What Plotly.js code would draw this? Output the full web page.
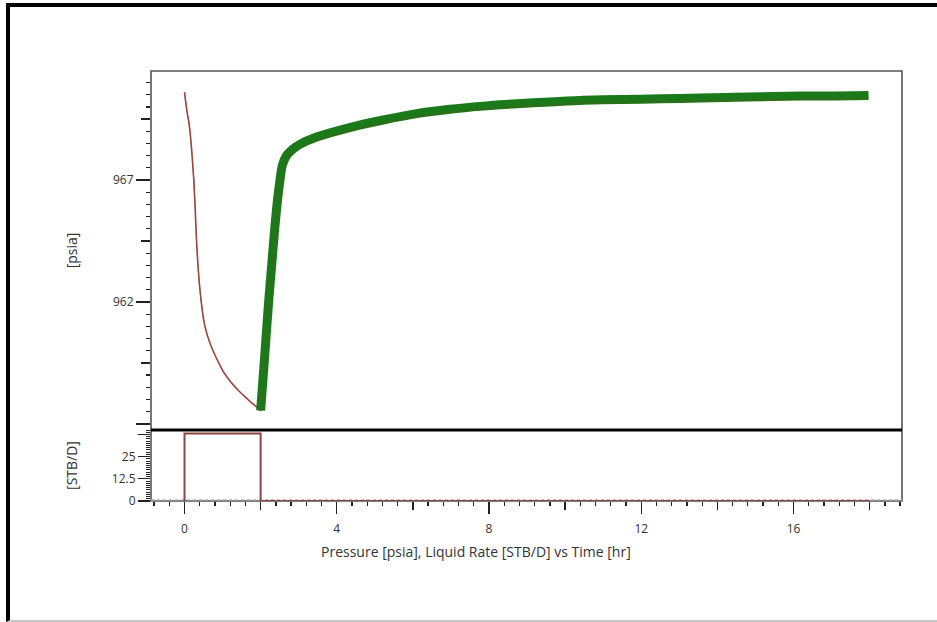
<!DOCTYPE html>
<html>
<head>
<meta charset="utf-8">
<script src="https://cdn.plot.ly/plotly-3.0.1.min.js"></script>
<style>
  html, body { margin: 0; padding: 0; background: #fff; }
  #wrap { position: relative; width: 937px; height: 622px; overflow: hidden; }
  #chart { width: 937px; height: 622px; }
  #frame { position: absolute; left: 6px; top: 3px; width: 931px; height: 619px;
           box-sizing: border-box; border-left: 4px solid #000; border-top: 4px solid #000;
           border-bottom: 2px solid #c8c8c8; pointer-events: none; }
</style>
</head>
<body>
<div id="wrap"><div id="chart"></div><div id="frame"></div></div>
<script>
// ---- Data ----
// Measured pressure during build-up (green) [hr], [psia]
const measTime = [2.0, 2.07, 2.14, 2.21, 2.29, 2.37, 2.46, 2.57, 2.68, 2.85, 3.03, 3.47, 4.34, 5.22, 6.1, 6.97, 7.85, 8.73, 9.6, 10.48, 11.5, 12.5, 13.55, 14.8, 16.18, 17.1, 17.97];
const measPres = [957.55, 959.0, 960.5, 962.0, 963.5, 965.0, 966.4, 967.6, 968.0, 968.27, 968.46, 968.76, 969.15, 969.46, 969.72, 969.9, 970.03, 970.13, 970.2, 970.27, 970.3, 970.33, 970.36, 970.4, 970.44, 970.45, 970.47];
// Model pressure (brown line), drawdown + build-up
const modelTime = [0, 0.06, 0.13, 0.24, 0.33, 0.39, 0.44, 0.5, 0.57, 0.65, 0.75, 0.9, 1.01, 1.15, 1.27, 1.45, 1.62, 1.75, 1.89, 2.0, 2.08, 2.15, 2.22, 2.3, 2.38, 2.47, 2.58, 2.7, 2.87, 3.05, 3.5, 4.36, 5.24, 6.12, 7.0, 7.87, 8.75, 9.62, 10.5, 11.5, 12.5, 13.55, 14.8, 16.18, 17.1, 17.97];
const modelPres = [970.6, 969.87, 969.2, 967.1, 964.1, 962.77, 962.0, 961.3, 960.8, 960.4, 960.0, 959.5, 959.17, 958.85, 958.62, 958.32, 958.07, 957.88, 957.7, 957.55, 959.0, 960.5, 962.0, 963.5, 965.0, 966.35, 967.5, 967.88, 968.14, 968.34, 968.64, 969.03, 969.34, 969.6, 969.78, 969.91, 970.01, 970.08, 970.15, 970.18, 970.21, 970.24, 970.28, 970.32, 970.33, 970.35];
// Liquid rate history [hr], [STB/D]
const rateTime = [0, 0, 2, 2, 18];
const rateVal  = [0, 38, 38, 0, 0];
// Tick labels
const pTickVals = [957, 962, 967];
const pTickText = ['', '962', '967'];
const pMidTicks = [959.5, 964.5, 969.5];
const qTickVals = [0, 12.5, 25, 37.5];
const qTickText = ['0', '12.5', '25', ''];
const tTickVals = [0, 4, 8, 12, 16];
const tTickText = ['0', '4', '8', '12', '16'];
const tMidTicks = [2, 6, 10, 14, 18];
const xTitle = 'Pressure [psia], Liquid Rate [STB/D] vs Time [hr]';

const FONT = 'Open Sans, DejaVu Sans, sans-serif';
const TXT = '#333333';

const traces = [
  { x: modelTime, y: modelPres, xaxis: 'x', yaxis: 'y', type: 'scatter', mode: 'lines',
    line: { color: '#ad4a52', width: 1.6, shape: 'spline', smoothing: 0.9 }, hoverinfo: 'skip' },
  { x: measTime, y: measPres, xaxis: 'x', yaxis: 'y', type: 'scatter', mode: 'lines',
    line: { color: '#1a7a1a', width: 9, shape: 'spline', smoothing: 0.6 }, hoverinfo: 'skip' },
  { x: modelTime, y: modelPres, xaxis: 'x', yaxis: 'y', type: 'scatter', mode: 'lines',
    line: { color: 'rgba(110,75,30,0.5)', width: 1, shape: 'spline', smoothing: 0.6 }, hoverinfo: 'skip' },
  { x: rateTime, y: rateVal, xaxis: 'x', yaxis: 'y2', type: 'scatter', mode: 'lines',
    line: { color: '#8e4444', width: 2 }, hoverinfo: 'skip', cliponaxis: false },
  { x: [], y: [], xaxis: 'x', yaxis: 'y3', type: 'scatter', hoverinfo: 'skip' },
  { x: [], y: [], xaxis: 'x2', yaxis: 'y2', type: 'scatter', hoverinfo: 'skip' }
];

const tickCommon = { ticks: 'outside', tickcolor: '#222', tickwidth: 1.3, showgrid: false, zeroline: false,
                     tickfont: { family: FONT, size: 12, color: TXT } };

const layout = {
  width: 937, height: 622,
  margin: { l: 151, r: 35, t: 71, b: 121 },
  paper_bgcolor: '#ffffff', plot_bgcolor: '#ffffff',
  showlegend: false,
  font: { family: FONT, color: TXT },
  xaxis: Object.assign({}, tickCommon, {
    anchor: 'y2', range: [-0.88, 18.85], tickmode: 'array', tickvals: tTickVals, ticktext: tTickText,
    ticklen: 12, ticklabelstandoff: 5,
    minor: { dtick: 0.4, tick0: 0, ticklen: 4, ticks: 'outside', tickcolor: '#222', tickwidth: 1.3 }
  }),
  xaxis2: Object.assign({}, tickCommon, {
    overlaying: 'x', anchor: 'y2', side: 'bottom', range: [-0.88, 18.85], tickmode: 'array',
    tickvals: tMidTicks, ticktext: tMidTicks.map(() => ''), ticklen: 8, showticklabels: false
  }),
  yaxis: Object.assign({}, tickCommon, {
    domain: [0.1651, 1], range: [956.75, 971.47], tickmode: 'array', tickvals: pTickVals, ticktext: pTickText,
    ticklen: 14,
    minor: { dtick: 0.5, tick0: 957, ticklen: 4, ticks: 'outside', tickcolor: '#222', tickwidth: 1.3 },
    title: { text: '[psia]', font: { family: FONT, size: 14, color: TXT }, standoff: 32 }
  }),
  yaxis3: Object.assign({}, tickCommon, {
    overlaying: 'y', side: 'left', anchor: 'x', range: [956.75, 971.47], tickmode: 'array',
    tickvals: pMidTicks, ticktext: pMidTicks.map(() => ''), ticklen: 9, showticklabels: false
  }),
  yaxis2: Object.assign({}, tickCommon, {
    domain: [0, 0.1651], range: [0, 40], tickmode: 'array', tickvals: qTickVals, ticktext: qTickText,
    ticklen: 12,
    minor: { dtick: 1.25, tick0: 0, ticklen: 4, ticks: 'outside', tickcolor: '#222', tickwidth: 1 },
    title: { text: '[STB/D]', font: { family: FONT, size: 14, color: TXT }, standoff: 30 }
  }),
  annotations: [
    { text: xTitle, xref: 'paper', yref: 'paper', x: 0.433, y: -0.1186, xanchor: 'center', yanchor: 'middle',
      showarrow: false, font: { family: FONT, size: 14, color: TXT } }
  ],
  shapes: [
    { type: 'rect', xref: 'paper', yref: 'paper', x0: 0, x1: 1, y0: 0, y1: 1,
      line: { color: '#555555', width: 1.6 }, layer: 'below' },
    { type: 'line', xref: 'paper', yref: 'y2', x0: 0, x1: 1, y0: 0.6, y1: 0.6,
      line: { color: '#aaaaaa', width: 1.5, dash: 'dot' }, layer: 'below' },
    { type: 'line', xref: 'paper', yref: 'paper', x0: 0, x1: 1, y0: 0.1651, y1: 0.1651,
      line: { color: '#000000', width: 2.8 }, layer: 'above' }
  ]
};

Plotly.newPlot('chart', traces, layout, { staticPlot: true, displayModeBar: false });
</script>
</body>
</html>
